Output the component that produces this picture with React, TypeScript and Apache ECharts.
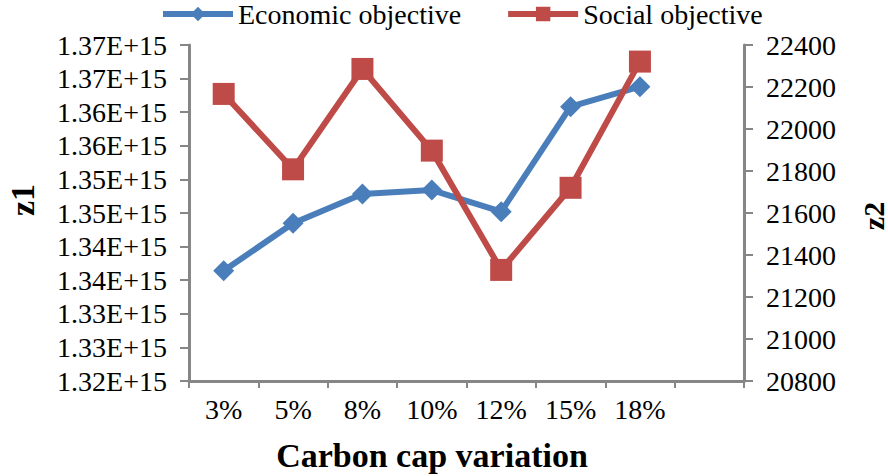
import React, { useEffect, useRef } from "react";
import * as echarts from "echarts";

const categories = ["3%", "5%", "8%", "10%", "12%", "15%", "18%", ""];
const economicObjective = [1.33641e15, 1.34347e15, 1.34783e15, 1.34842e15, 1.34519e15, 1.36082e15, 1.36379e15];
const socialObjective = [22167, 21808, 22286, 21897, 21329, 21720, 22321];
const seriesNames = ["Economic objective", "Social objective"];
const xTitle = "Carbon cap variation";
const leftTitle = "z1";
const rightTitle = "z2";

const FONT = "Liberation Serif";
const AXIS_COLOR = "#868686";
const BLUE = "#4A7EBB";
const RED = "#BE4B48";

export default function App() {
  const ref = useRef<HTMLDivElement>(null);
  useEffect(() => {
    if (!ref.current) return;
    const chart = echarts.init(ref.current, undefined, { renderer: "svg" });
    const axisCommon = {
      axisLine: { show: true, lineStyle: { color: AXIS_COLOR, width: 3 } },
      axisTick: { show: true, length: 9, lineStyle: { color: AXIS_COLOR, width: 2 } },
      splitLine: { show: false },
    };
    const labelStyle = { fontSize: 28, fontFamily: FONT, color: "#000" };
    chart.setOption({
      animation: false,
      backgroundColor: "#fff",
      textStyle: { fontFamily: FONT },
      legend: {
        left: 160,
        top: 0,
        padding: 0,
        itemWidth: 70,
        itemHeight: 18,
        itemGap: 44,
        lineStyle: { width: 6 },
        textStyle: { fontSize: 28, fontFamily: FONT, color: "#000" },
        data: seriesNames,
      },
      grid: { left: 189, right: 144, top: 45, bottom: 95 },
      xAxis: {
        type: "category",
        data: categories,
        boundaryGap: true,
        ...axisCommon,
        axisTick: { show: true, length: 7, alignWithLabel: false, lineStyle: { color: AXIS_COLOR, width: 2 } },
        axisLabel: { ...labelStyle, margin: 14, interval: 0 },
      },
      yAxis: [
        {
          type: "value",
          position: "left",
          min: 1.32e15,
          max: 1.37e15,
          interval: 5e12,
          ...axisCommon,
          axisLabel: {
            ...labelStyle,
            margin: 22,
            formatter: (v: number) => (Math.round(v / 1e13 + 1e-6) / 100).toFixed(2) + "E+15",
          },
        },
        {
          type: "value",
          position: "right",
          min: 20800,
          max: 22400,
          interval: 200,
          ...axisCommon,
          axisLabel: { ...labelStyle, margin: 22, formatter: (v: number) => String(Math.round(v)) },
        },
      ],
      series: [
        {
          name: seriesNames[0],
          type: "line",
          yAxisIndex: 0,
          data: economicObjective,
          symbol: "diamond",
          symbolSize: 21,
          lineStyle: { color: BLUE, width: 6 },
          itemStyle: { color: BLUE },
        },
        {
          name: seriesNames[1],
          type: "line",
          yAxisIndex: 1,
          data: socialObjective,
          symbol: "rect",
          symbolSize: 22,
          lineStyle: { color: RED, width: 6 },
          itemStyle: { color: RED },
        },
      ],
      graphic: [
        {
          type: "text",
          x: 432,
          y: 455,
          style: { text: xTitle, fontSize: 34, fontWeight: "bold", fontFamily: FONT, fill: "#000", align: "center", verticalAlign: "middle" },
        },
        {
          type: "text",
          x: 22,
          y: 200,
          rotation: Math.PI / 2,
          style: { text: leftTitle, fontSize: 34, fontWeight: "bold", fontFamily: FONT, fill: "#000", align: "center", verticalAlign: "middle" },
        },
        {
          type: "text",
          x: 873,
          y: 216,
          rotation: Math.PI / 2,
          style: { text: rightTitle, fontSize: 30, fontWeight: "bold", fontFamily: FONT, fill: "#000", align: "center", verticalAlign: "middle" },
        },
      ],
    });
    return () => chart.dispose();
  }, []);
  return <div ref={ref} style={{ position: "fixed", left: 0, top: 0, width: 888, height: 476 }} />;
}
